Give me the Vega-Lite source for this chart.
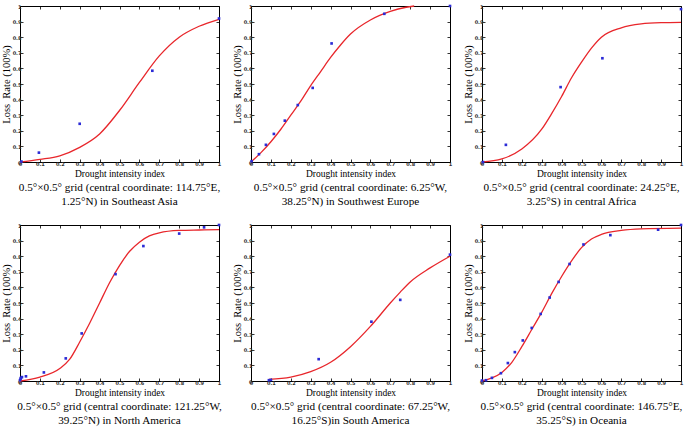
{
  "$schema": "https://vega.github.io/schema/vega-lite/v6.json",
  "background": "white",
  "padding": {"left": 0, "top": 2, "right": 3, "bottom": 0},
  "config": {
    "view": {"stroke": "#000", "strokeWidth": 1},
    "axis": {
      "grid": false, "domain": false, "tickSize": -3, "tickColor": "#000", "tickWidth": 0.8, "tickCount": 10,
      "labelFont": "DejaVu Sans", "labelFontSize": 5, "labelFontWeight": "bold", "labelColor": "#333",
      "labelOverlap": false, "labelFlush": false,
      "labelPadding": 2, "titleFont": "Liberation Serif", "titleFontSize": 9.5, "titleFontWeight": "normal",
      "titleColor": "#000", "titlePadding": 2, "format": "~g"
    },
    "axisY": {"titleFontSize": 10.5, "titlePadding": 1},
    "title": {"font": "Liberation Serif", "fontSize": 11.2, "fontWeight": "normal", "color": "#000", "orient": "bottom", "anchor": "middle", "offset": 4, "lineHeight": 14}
  },
  "datasets": {
    "d": [
      {"p":1,"k":"fit","x":0,"y":0},{"p":1,"k":"fit","x":0.1,"y":0.017},{"p":1,"k":"fit","x":0.2,"y":0.04},{"p":1,"k":"fit","x":0.3,"y":0.094},{"p":1,"k":"fit","x":0.4,"y":0.18},{"p":1,"k":"fit","x":0.5,"y":0.33},{"p":1,"k":"fit","x":0.6,"y":0.51},{"p":1,"k":"fit","x":0.7,"y":0.68},{"p":1,"k":"fit","x":0.8,"y":0.80},{"p":1,"k":"fit","x":0.9,"y":0.87},{"p":1,"k":"fit","x":1,"y":0.915},
      {"p":1,"k":"pt","x":0.007,"y":0.003},{"p":1,"k":"pt","x":0.095,"y":0.06},{"p":1,"k":"pt","x":0.3,"y":0.245},{"p":1,"k":"pt","x":0.665,"y":0.585},{"p":1,"k":"pt","x":1,"y":0.92},

      {"p":2,"k":"fit","x":0,"y":0},{"p":2,"k":"fit","x":0.05,"y":0.06},{"p":2,"k":"fit","x":0.1,"y":0.13},{"p":2,"k":"fit","x":0.15,"y":0.21},{"p":2,"k":"fit","x":0.2,"y":0.3},{"p":2,"k":"fit","x":0.25,"y":0.39},{"p":2,"k":"fit","x":0.3,"y":0.49},{"p":2,"k":"fit","x":0.35,"y":0.58},{"p":2,"k":"fit","x":0.4,"y":0.67},{"p":2,"k":"fit","x":0.45,"y":0.75},{"p":2,"k":"fit","x":0.5,"y":0.82},{"p":2,"k":"fit","x":0.6,"y":0.91},{"p":2,"k":"fit","x":0.7,"y":0.965},{"p":2,"k":"fit","x":0.78,"y":0.992},{"p":2,"k":"fit","x":0.82,"y":1.0},
      {"p":2,"k":"pt","x":0.003,"y":0.005},{"p":2,"k":"pt","x":0.04,"y":0.05},{"p":2,"k":"pt","x":0.075,"y":0.11},{"p":2,"k":"pt","x":0.115,"y":0.18},{"p":2,"k":"pt","x":0.17,"y":0.265},{"p":2,"k":"pt","x":0.235,"y":0.365},{"p":2,"k":"pt","x":0.31,"y":0.475},{"p":2,"k":"pt","x":0.405,"y":0.76},{"p":2,"k":"pt","x":0.67,"y":0.95},{"p":2,"k":"pt","x":1,"y":1},

      {"p":3,"k":"fit","x":0,"y":0},{"p":3,"k":"fit","x":0.1,"y":0.02},{"p":3,"k":"fit","x":0.2,"y":0.083},{"p":3,"k":"fit","x":0.3,"y":0.21},{"p":3,"k":"fit","x":0.35,"y":0.31},{"p":3,"k":"fit","x":0.4,"y":0.42},{"p":3,"k":"fit","x":0.45,"y":0.54},{"p":3,"k":"fit","x":0.5,"y":0.64},{"p":3,"k":"fit","x":0.55,"y":0.73},{"p":3,"k":"fit","x":0.6,"y":0.8},{"p":3,"k":"fit","x":0.7,"y":0.86},{"p":3,"k":"fit","x":0.8,"y":0.885},{"p":3,"k":"fit","x":0.9,"y":0.893},{"p":3,"k":"fit","x":1,"y":0.895},
      {"p":3,"k":"pt","x":0.005,"y":0.0},{"p":3,"k":"pt","x":0.12,"y":0.11},{"p":3,"k":"pt","x":0.395,"y":0.48},{"p":3,"k":"pt","x":0.605,"y":0.665},{"p":3,"k":"pt","x":1,"y":0.98},

      {"p":4,"k":"fit","x":0,"y":0},{"p":4,"k":"fit","x":0.1,"y":0.025},{"p":4,"k":"fit","x":0.2,"y":0.08},{"p":4,"k":"fit","x":0.25,"y":0.14},{"p":4,"k":"fit","x":0.3,"y":0.25},{"p":4,"k":"fit","x":0.35,"y":0.37},{"p":4,"k":"fit","x":0.4,"y":0.5},{"p":4,"k":"fit","x":0.45,"y":0.63},{"p":4,"k":"fit","x":0.5,"y":0.74},{"p":4,"k":"fit","x":0.55,"y":0.83},{"p":4,"k":"fit","x":0.6,"y":0.89},{"p":4,"k":"fit","x":0.65,"y":0.93},{"p":4,"k":"fit","x":0.7,"y":0.95},{"p":4,"k":"fit","x":0.8,"y":0.965},{"p":4,"k":"fit","x":0.9,"y":0.968},{"p":4,"k":"fit","x":1,"y":0.97},
      {"p":4,"k":"pt","x":0,"y":0.005},{"p":4,"k":"pt","x":0.003,"y":0.015},{"p":4,"k":"pt","x":0.005,"y":0.02},{"p":4,"k":"pt","x":0.01,"y":0.025},{"p":4,"k":"pt","x":0.03,"y":0.03},{"p":4,"k":"pt","x":0.12,"y":0.055},{"p":4,"k":"pt","x":0.23,"y":0.145},{"p":4,"k":"pt","x":0.31,"y":0.305},{"p":4,"k":"pt","x":0.48,"y":0.685},{"p":4,"k":"pt","x":0.62,"y":0.865},{"p":4,"k":"pt","x":0.8,"y":0.945},{"p":4,"k":"pt","x":0.925,"y":0.985},{"p":4,"k":"pt","x":1,"y":1},

      {"p":5,"k":"fit","x":0.09,"y":0.01},{"p":5,"k":"fit","x":0.2,"y":0.025},{"p":5,"k":"fit","x":0.3,"y":0.06},{"p":5,"k":"fit","x":0.4,"y":0.12},{"p":5,"k":"fit","x":0.5,"y":0.22},{"p":5,"k":"fit","x":0.6,"y":0.35},{"p":5,"k":"fit","x":0.7,"y":0.5},{"p":5,"k":"fit","x":0.75,"y":0.57},{"p":5,"k":"fit","x":0.8,"y":0.635},{"p":5,"k":"fit","x":0.9,"y":0.725},{"p":5,"k":"fit","x":1,"y":0.8},
      {"p":5,"k":"pt","x":0.09,"y":0.005},{"p":5,"k":"pt","x":0.1,"y":0.007},{"p":5,"k":"pt","x":0.34,"y":0.14},{"p":5,"k":"pt","x":0.605,"y":0.38},{"p":5,"k":"pt","x":0.75,"y":0.52},{"p":5,"k":"pt","x":1,"y":0.81},

      {"p":6,"k":"fit","x":0,"y":0},{"p":6,"k":"fit","x":0.05,"y":0.02},{"p":6,"k":"fit","x":0.1,"y":0.055},{"p":6,"k":"fit","x":0.15,"y":0.12},{"p":6,"k":"fit","x":0.2,"y":0.22},{"p":6,"k":"fit","x":0.25,"y":0.33},{"p":6,"k":"fit","x":0.3,"y":0.44},{"p":6,"k":"fit","x":0.35,"y":0.56},{"p":6,"k":"fit","x":0.4,"y":0.67},{"p":6,"k":"fit","x":0.45,"y":0.77},{"p":6,"k":"fit","x":0.5,"y":0.855},{"p":6,"k":"fit","x":0.55,"y":0.91},{"p":6,"k":"fit","x":0.6,"y":0.94},{"p":6,"k":"fit","x":0.7,"y":0.965},{"p":6,"k":"fit","x":0.8,"y":0.975},{"p":6,"k":"fit","x":1,"y":0.98},
      {"p":6,"k":"pt","x":0,"y":0.003},{"p":6,"k":"pt","x":0.02,"y":0.005},{"p":6,"k":"pt","x":0.05,"y":0.02},{"p":6,"k":"pt","x":0.095,"y":0.05},{"p":6,"k":"pt","x":0.13,"y":0.115},{"p":6,"k":"pt","x":0.165,"y":0.185},{"p":6,"k":"pt","x":0.205,"y":0.26},{"p":6,"k":"pt","x":0.25,"y":0.34},{"p":6,"k":"pt","x":0.295,"y":0.43},{"p":6,"k":"pt","x":0.34,"y":0.535},{"p":6,"k":"pt","x":0.385,"y":0.635},{"p":6,"k":"pt","x":0.44,"y":0.75},{"p":6,"k":"pt","x":0.51,"y":0.875},{"p":6,"k":"pt","x":0.645,"y":0.935},{"p":6,"k":"pt","x":0.885,"y":0.97},{"p":6,"k":"pt","x":1,"y":1}
    ]
  },
  "data": {"name": "d"},
  "columns": 3,
  "spacing": {"row": 63, "column": 32},
  "bounds": "flush",
  "concat": [
    {"title": {"text": ["0.5°×0.5° grid (central coordinate: 114.75°E,", "1.25°N) in Southeast Asia"]},
     "width": 199, "height": 156, "transform": [{"filter": "datum.p == 1"}],
     "resolve": {"axis": {"x": "independent", "y": "independent"}},
     "layer": [
      {"transform": [{"filter": "datum.k == 'fit'"}], "mark": {"type": "line", "color": "#e8262b", "strokeWidth": 1.3, "interpolate": "monotone"},
       "encoding": {"x": {"field": "x", "type": "quantitative", "scale": {"domain": [0,1]}, "axis": {"title": "Drought intensity index"}},
                    "y": {"field": "y", "type": "quantitative", "scale": {"domain": [0,1]}, "axis": {"title": "Loss\u00a0 Rate (100%)"}}}},
      {"transform": [{"filter": "datum.k == 'pt'"}], "mark": {"type": "point", "filled": true, "shape": "square", "size": 7, "color": "#2b2bd6", "opacity": 1},
       "encoding": {"x": {"field": "x", "type": "quantitative", "axis": {"orient": "top", "labels": false, "title": null}},
                    "y": {"field": "y", "type": "quantitative", "axis": {"orient": "right", "labels": false, "title": null}}}}
     ]},
    {"title": {"text": ["0.5°×0.5° grid (central coordinate: 6.25°W,", "38.25°N) in Southwest Europe"]},
     "width": 199, "height": 156, "transform": [{"filter": "datum.p == 2"}],
     "resolve": {"axis": {"x": "independent", "y": "independent"}},
     "layer": [
      {"transform": [{"filter": "datum.k == 'fit'"}], "mark": {"type": "line", "color": "#e8262b", "strokeWidth": 1.3, "interpolate": "monotone"},
       "encoding": {"x": {"field": "x", "type": "quantitative", "scale": {"domain": [0,1]}, "axis": {"title": "Drought intensity index"}},
                    "y": {"field": "y", "type": "quantitative", "scale": {"domain": [0,1]}, "axis": {"title": "Loss\u00a0 Rate (100%)"}}}},
      {"transform": [{"filter": "datum.k == 'pt'"}], "mark": {"type": "point", "filled": true, "shape": "square", "size": 7, "color": "#2b2bd6", "opacity": 1},
       "encoding": {"x": {"field": "x", "type": "quantitative", "axis": {"orient": "top", "labels": false, "title": null}},
                    "y": {"field": "y", "type": "quantitative", "axis": {"orient": "right", "labels": false, "title": null}}}}
     ]},
    {"title": {"text": ["0.5°×0.5° grid (central coordinate: 24.25°E,", "3.25°S) in central Africa"]},
     "width": 199, "height": 156, "transform": [{"filter": "datum.p == 3"}],
     "resolve": {"axis": {"x": "independent", "y": "independent"}},
     "layer": [
      {"transform": [{"filter": "datum.k == 'fit'"}], "mark": {"type": "line", "color": "#e8262b", "strokeWidth": 1.3, "interpolate": "monotone"},
       "encoding": {"x": {"field": "x", "type": "quantitative", "scale": {"domain": [0,1]}, "axis": {"title": "Drought intensity index"}},
                    "y": {"field": "y", "type": "quantitative", "scale": {"domain": [0,1]}, "axis": {"title": "Loss\u00a0 Rate (100%)"}}}},
      {"transform": [{"filter": "datum.k == 'pt'"}], "mark": {"type": "point", "filled": true, "shape": "square", "size": 7, "color": "#2b2bd6", "opacity": 1},
       "encoding": {"x": {"field": "x", "type": "quantitative", "axis": {"orient": "top", "labels": false, "title": null}},
                    "y": {"field": "y", "type": "quantitative", "axis": {"orient": "right", "labels": false, "title": null}}}}
     ]},
    {"title": {"text": ["0.5°×0.5° grid (central coordinate: 121.25°W,", "39.25°N) in North America"]},
     "width": 199, "height": 156, "transform": [{"filter": "datum.p == 4"}],
     "resolve": {"axis": {"x": "independent", "y": "independent"}},
     "layer": [
      {"transform": [{"filter": "datum.k == 'fit'"}], "mark": {"type": "line", "color": "#e8262b", "strokeWidth": 1.3, "interpolate": "monotone"},
       "encoding": {"x": {"field": "x", "type": "quantitative", "scale": {"domain": [0,1]}, "axis": {"title": "Drought intensity index"}},
                    "y": {"field": "y", "type": "quantitative", "scale": {"domain": [0,1]}, "axis": {"title": "Loss\u00a0 Rate (100%)"}}}},
      {"transform": [{"filter": "datum.k == 'pt'"}], "mark": {"type": "point", "filled": true, "shape": "square", "size": 7, "color": "#2b2bd6", "opacity": 1},
       "encoding": {"x": {"field": "x", "type": "quantitative", "axis": {"orient": "top", "labels": false, "title": null}},
                    "y": {"field": "y", "type": "quantitative", "axis": {"orient": "right", "labels": false, "title": null}}}}
     ]},
    {"title": {"text": ["0.5°×0.5° grid (central coordinate: 67.25°W,", "16.25°S)in South America"]},
     "width": 199, "height": 156, "transform": [{"filter": "datum.p == 5"}],
     "resolve": {"axis": {"x": "independent", "y": "independent"}},
     "layer": [
      {"transform": [{"filter": "datum.k == 'fit'"}], "mark": {"type": "line", "color": "#e8262b", "strokeWidth": 1.3, "interpolate": "monotone"},
       "encoding": {"x": {"field": "x", "type": "quantitative", "scale": {"domain": [0,1]}, "axis": {"title": "Drought intensity index"}},
                    "y": {"field": "y", "type": "quantitative", "scale": {"domain": [0,1]}, "axis": {"title": "Loss\u00a0 Rate (100%)"}}}},
      {"transform": [{"filter": "datum.k == 'pt'"}], "mark": {"type": "point", "filled": true, "shape": "square", "size": 7, "color": "#2b2bd6", "opacity": 1},
       "encoding": {"x": {"field": "x", "type": "quantitative", "axis": {"orient": "top", "labels": false, "title": null}},
                    "y": {"field": "y", "type": "quantitative", "axis": {"orient": "right", "labels": false, "title": null}}}}
     ]},
    {"title": {"text": ["0.5°×0.5° grid (central coordinate: 146.75°E,", "35.25°S) in Oceania"]},
     "width": 199, "height": 156, "transform": [{"filter": "datum.p == 6"}],
     "resolve": {"axis": {"x": "independent", "y": "independent"}},
     "layer": [
      {"transform": [{"filter": "datum.k == 'fit'"}], "mark": {"type": "line", "color": "#e8262b", "strokeWidth": 1.3, "interpolate": "monotone"},
       "encoding": {"x": {"field": "x", "type": "quantitative", "scale": {"domain": [0,1]}, "axis": {"title": "Drought intensity index"}},
                    "y": {"field": "y", "type": "quantitative", "scale": {"domain": [0,1]}, "axis": {"title": "Loss\u00a0 Rate (100%)"}}}},
      {"transform": [{"filter": "datum.k == 'pt'"}], "mark": {"type": "point", "filled": true, "shape": "square", "size": 7, "color": "#2b2bd6", "opacity": 1},
       "encoding": {"x": {"field": "x", "type": "quantitative", "axis": {"orient": "top", "labels": false, "title": null}},
                    "y": {"field": "y", "type": "quantitative", "axis": {"orient": "right", "labels": false, "title": null}}}}
     ]}
  ]
}
